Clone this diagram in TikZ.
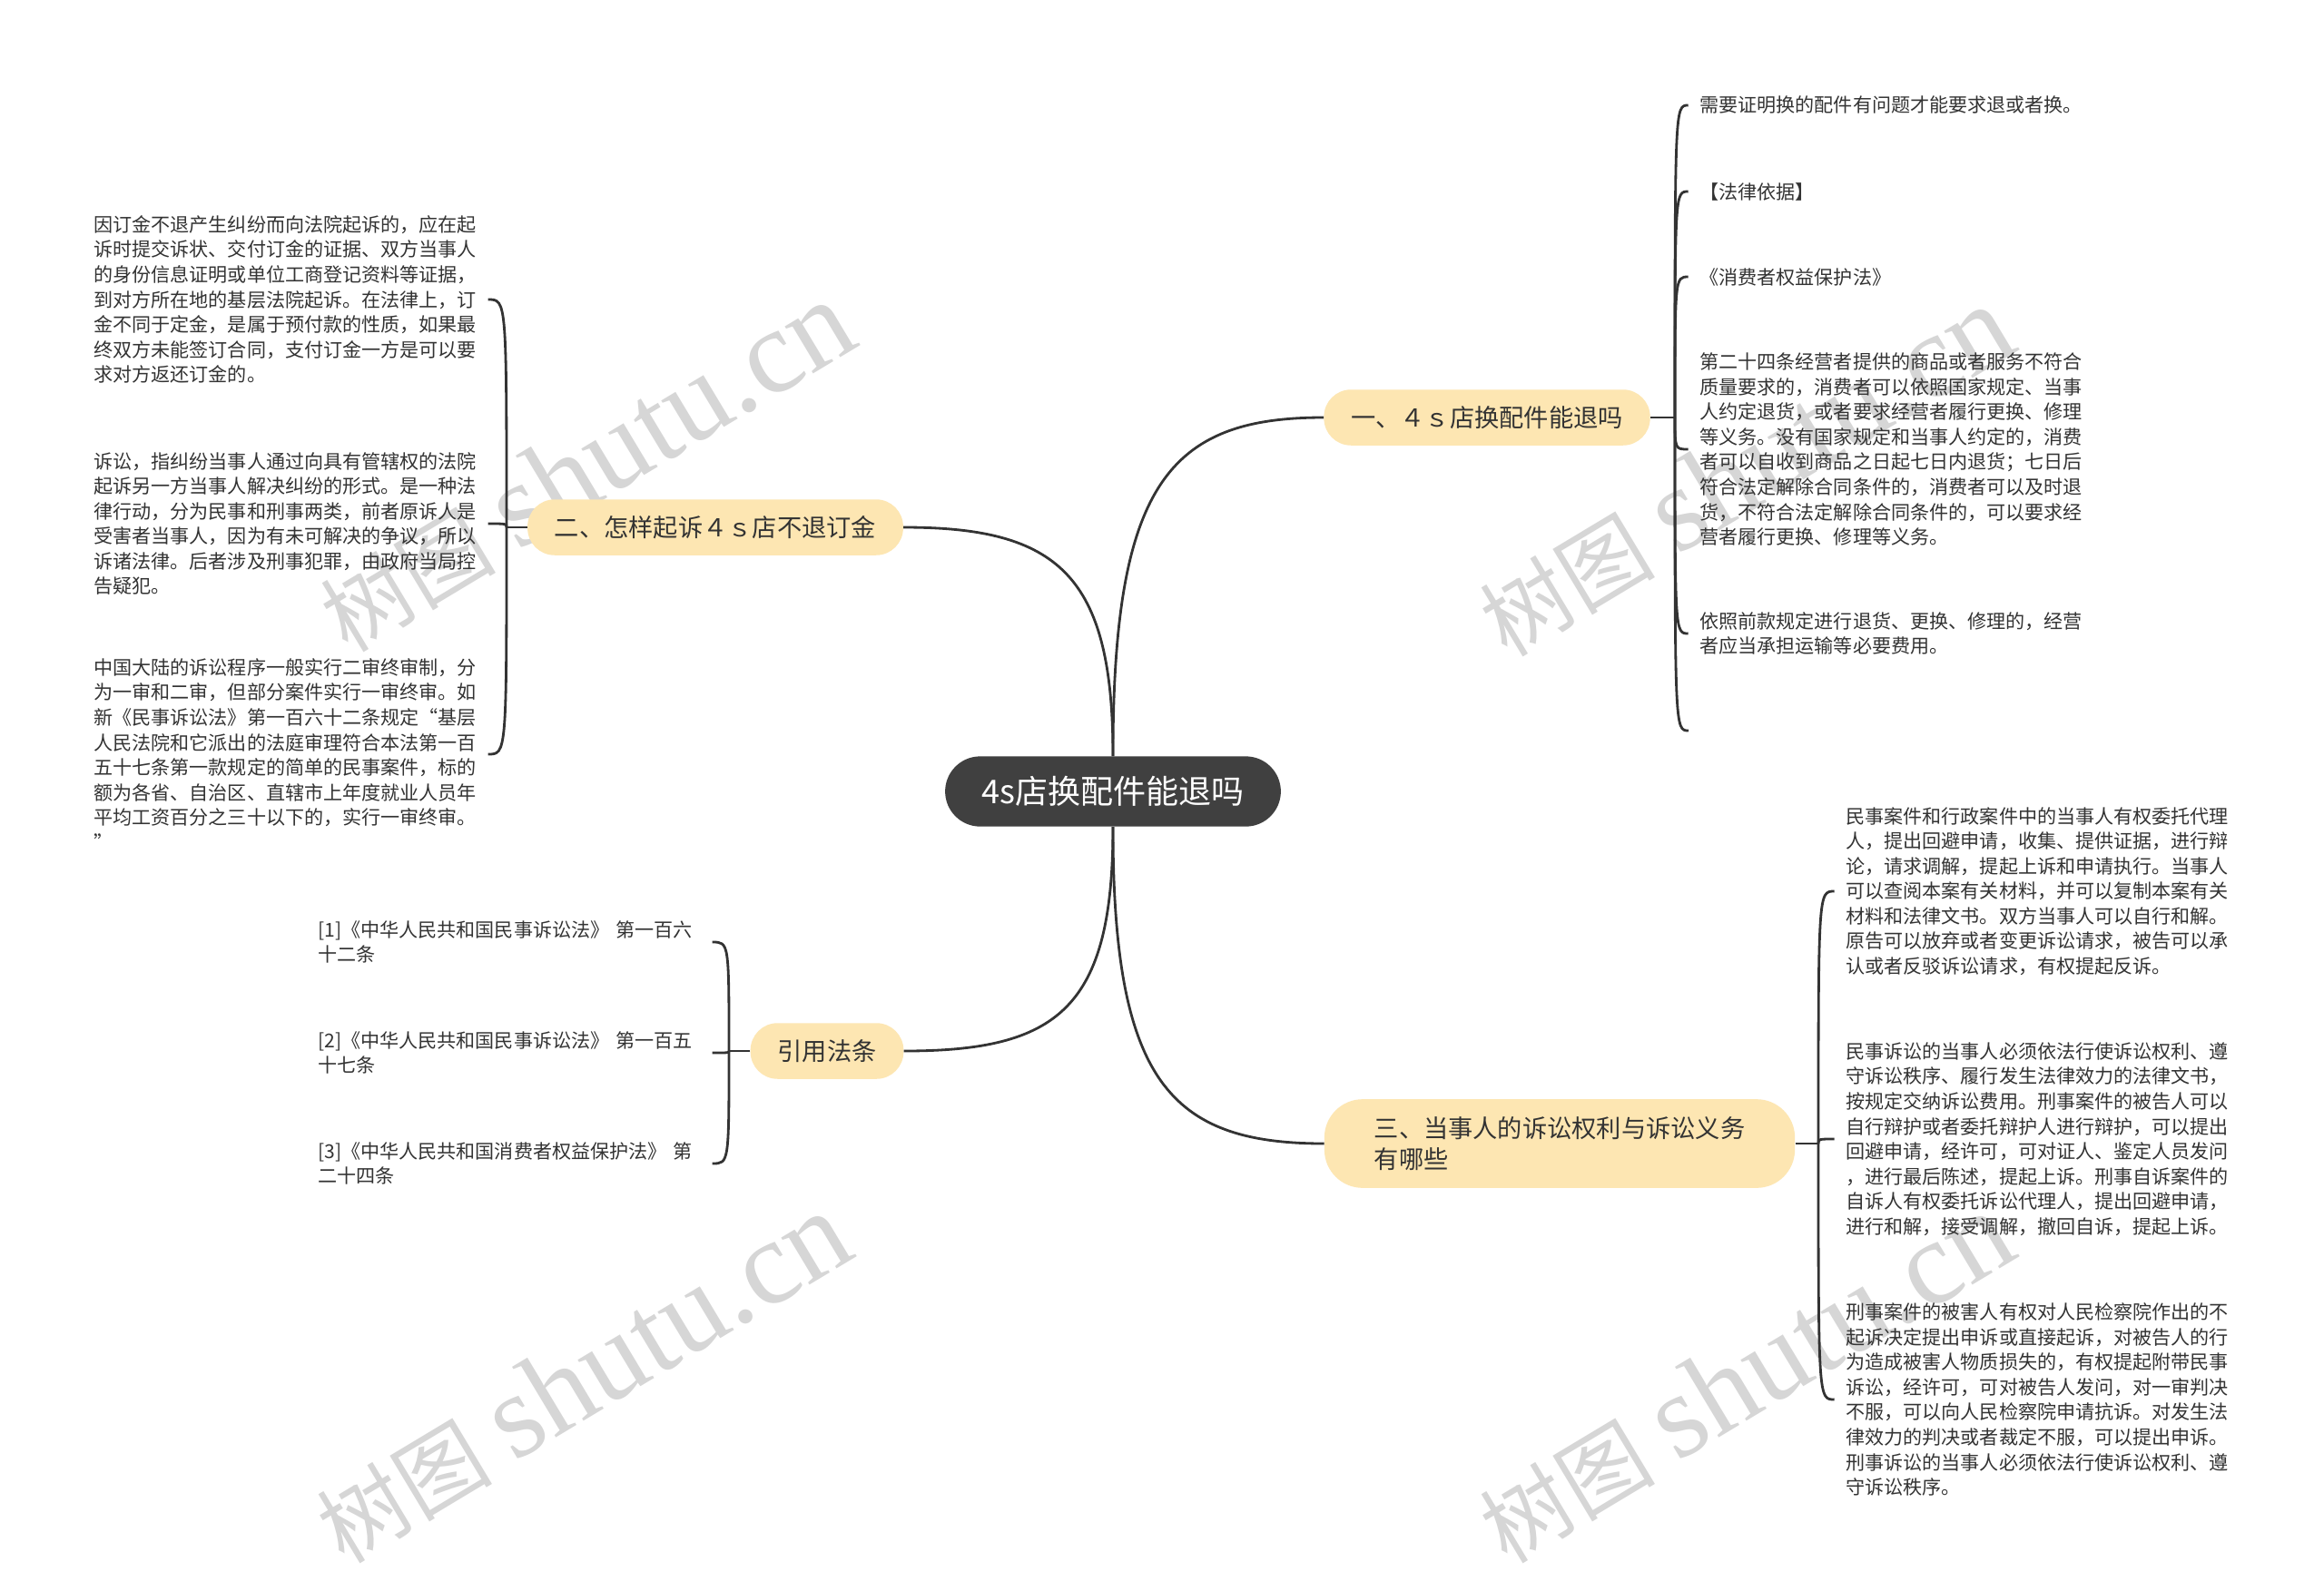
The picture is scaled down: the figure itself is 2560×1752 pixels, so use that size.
\documentclass[tikz,border=0pt]{standalone}
\usepackage{fontspec}
\setmainfont{Noto Sans CJK SC}
\newfontfamily\wmfont{Liberation Serif}
\usepackage{xcolor}
\definecolor{ink}{HTML}{333333}
\definecolor{rootfill}{HTML}{404040}
\definecolor{topicfill}{HTML}{FDE6B2}
\definecolor{wmark}{HTML}{D6D6D6}
\tikzset{
  rootbox/.style={fill=rootfill, text=white, rounded corners=22pt, minimum height=44pt,
    inner xsep=23pt, font=\fontsize{20.5pt}{24pt}\selectfont},
  topicbox/.style={fill=topicfill, text=ink, rounded corners=17pt, minimum height=35pt,
    inner xsep=17pt, font=\fontsize{15.5pt}{19.5pt}\selectfont},
  leaftext/.style={text=ink, inner sep=0pt, text width=240pt, align=left, anchor=west,
    font=\fontsize{12pt}{15.7pt}\selectfont},
  link/.style={draw=ink, line width=1.6pt},
}
\begin{document}
\begin{tikzpicture}[x=0.02cm, y=-0.02cm]
  \fill[white] (0,0) rectangle (2560,1752);
  \useasboundingbox (0,0) rectangle (2560,1752);

  % watermarks
  \foreach \wx/\wy [count=\i] in {645/514, 1922/519, 641/1518, 1922/1518}
    \node[wmark, rotate=31, inner sep=0pt] (wm\i) at (\wx,\wy)
      {\fontsize{55pt}{60pt}\selectfont 树图\hspace{14pt}\wmfont\fontsize{75pt}{80pt}\selectfont shutu.cn};

  % root and main topics
  \node[rootbox] (root) at (1226,872) {4s店换配件能退吗};
  \node[topicbox] (t1) at (1638,460) {一、４ｓ店换配件能退吗};
  \node[topicbox] (t2) at (788,581) {二、怎样起诉４ｓ店不退订金};
  \node[topicbox] (t3) at (911,1158) {引用法条};
  \node[topicbox, align=left, minimum width=295pt, minimum height=55.6pt, rounded corners=24pt]
    (t4) at (1718,1260) {三、当事人的诉讼权利与诉讼义务\\有哪些};

  \draw[link] (root.north) .. controls +(0,-300) and +(-170,0) .. (t1.west);
  \draw[link] (root.north) .. controls +(0,-200) and +(170,0) .. (t2.east);
  \draw[link] (root.south) .. controls +(0,200) and +(170,0) .. (t3.east);
  \draw[link] (root.south) .. controls +(0,280) and +(-170,0) .. (t4.west);

  % topic 1
  \coordinate (j1) at (1845,460);
  \node[leaftext] (l1a) at (1872,116) {需要证明换的配件有问题才能要求退或者换。};
  \node[leaftext] (l1b) at (1872,211) {【法律依据】};
  \node[leaftext] (l1c) at (1872,305) {《消费者权益保护法》};
  \node[leaftext] (l1d) at (1872,495) {第二十四条经营者提供的商品或者服务不符合\\
    质量要求的，消费者可以依照国家规定、当事\\
    人约定退货，或者要求经营者履行更换、修理\\
    等义务。没有国家规定和当事人约定的，消费\\
    者可以自收到商品之日起七日内退货；七日后\\
    符合法定解除合同条件的，消费者可以及时退\\
    货，不符合法定解除合同条件的，可以要求经\\
    营者履行更换、修理等义务。};
  \node[leaftext] (l1e) at (1872,698) {依照前款规定进行退货、更换、修理的，经营\\
    者应当承担运输等必要费用。};
  \coordinate (l1f) at (1860,805);
  \draw[link] (t1.east) -- (j1);
  \foreach \leaf in {l1a,l1b,l1c,l1d,l1e}
    \draw[link] (j1) .. controls (j1 |- \leaf.west) .. ([xshift=-7pt]\leaf.west);
  \draw[link] (j1) .. controls (j1 |- l1f) .. (l1f);

  % topic 2
  \coordinate (j2) at (558,581);
  \node[leaftext] (l2a) at (103,330) {因订金不退产生纠纷而向法院起诉的，应在起\\
    诉时提交诉状、交付订金的证据、双方当事人\\
    的身份信息证明或单位工商登记资料等证据，\\
    到对方所在地的基层法院起诉。在法律上，订\\
    金不同于定金，是属于预付款的性质，如果最\\
    终双方未能签订合同，支付订金一方是可以要\\
    求对方返还订金的。};
  \node[leaftext] (l2b) at (103,577) {诉讼，指纠纷当事人通过向具有管辖权的法院\\
    起诉另一方当事人解决纠纷的形式。是一种法\\
    律行动，分为民事和刑事两类，前者原诉人是\\
    受害者当事人，因为有未可解决的争议，所以\\
    诉诸法律。后者涉及刑事犯罪，由政府当局控\\
    告疑犯。};
  \node[leaftext] (l2c) at (103,831) {中国大陆的诉讼程序一般实行二审终审制，分\\
    为一审和二审，但部分案件实行一审终审。如\\
    新《民事诉讼法》第一百六十二条规定“基层\\
    人民法院和它派出的法庭审理符合本法第一百\\
    五十七条第一款规定的简单的民事案件，标的\\
    额为各省、自治区、直辖市上年度就业人员年\\
    平均工资百分之三十以下的，实行一审终审。\\
    ”};
  \draw[link] (t2.west) -- (j2);
  \foreach \leaf in {l2a,l2b,l2c}
    \draw[link] (j2) .. controls (j2 |- \leaf.east) .. ([xshift=7pt]\leaf.east);

  % cited laws
  \coordinate (j3) at (803,1158);
  \node[leaftext] (l3a) at (350,1038) {[1]《中华人民共和国民事诉讼法》 第一百六\\十二条};
  \node[leaftext] (l3b) at (350,1160) {[2]《中华人民共和国民事诉讼法》 第一百五\\十七条};
  \node[leaftext] (l3c) at (350,1282) {[3]《中华人民共和国消费者权益保护法》 第\\二十四条};
  \draw[link] (t3.west) -- (j3);
  \foreach \leaf in {l3a,l3b,l3c}
    \draw[link] (j3) .. controls (j3 |- \leaf.east) .. ([xshift=7pt]\leaf.east);

  % topic 3
  \coordinate (j4) at (2003,1260);
  \node[leaftext] (l4a) at (2033,982) {民事案件和行政案件中的当事人有权委托代理\\
    人，提出回避申请，收集、提供证据，进行辩\\
    论，请求调解，提起上诉和申请执行。当事人\\
    可以查阅本案有关材料，并可以复制本案有关\\
    材料和法律文书。双方当事人可以自行和解。\\
    原告可以放弃或者变更诉讼请求，被告可以承\\
    认或者反驳诉讼请求，有权提起反诉。};
  \node[leaftext] (l4b) at (2033,1255) {民事诉讼的当事人必须依法行使诉讼权利、遵\\
    守诉讼秩序、履行发生法律效力的法律文书，\\
    按规定交纳诉讼费用。刑事案件的被告人可以\\
    自行辩护或者委托辩护人进行辩护，可以提出\\
    回避申请，经许可，可对证人、鉴定人员发问\\
    ，进行最后陈述，提起上诉。刑事自诉案件的\\
    自诉人有权委托诉讼代理人，提出回避申请，\\
    进行和解，接受调解，撤回自诉，提起上诉。};
  \node[leaftext] (l4c) at (2033,1542) {刑事案件的被害人有权对人民检察院作出的不\\
    起诉决定提出申诉或直接起诉，对被告人的行\\
    为造成被害人物质损失的，有权提起附带民事\\
    诉讼，经许可，可对被告人发问，对一审判决\\
    不服，可以向人民检察院申请抗诉。对发生法\\
    律效力的判决或者裁定不服，可以提出申诉。\\
    刑事诉讼的当事人必须依法行使诉讼权利、遵\\
    守诉讼秩序。};
  \draw[link] (t4.east) -- (j4);
  \foreach \leaf in {l4a,l4b,l4c}
    \draw[link] (j4) .. controls (j4 |- \leaf.west) .. ([xshift=-7pt]\leaf.west);
\end{tikzpicture}
\end{document}
